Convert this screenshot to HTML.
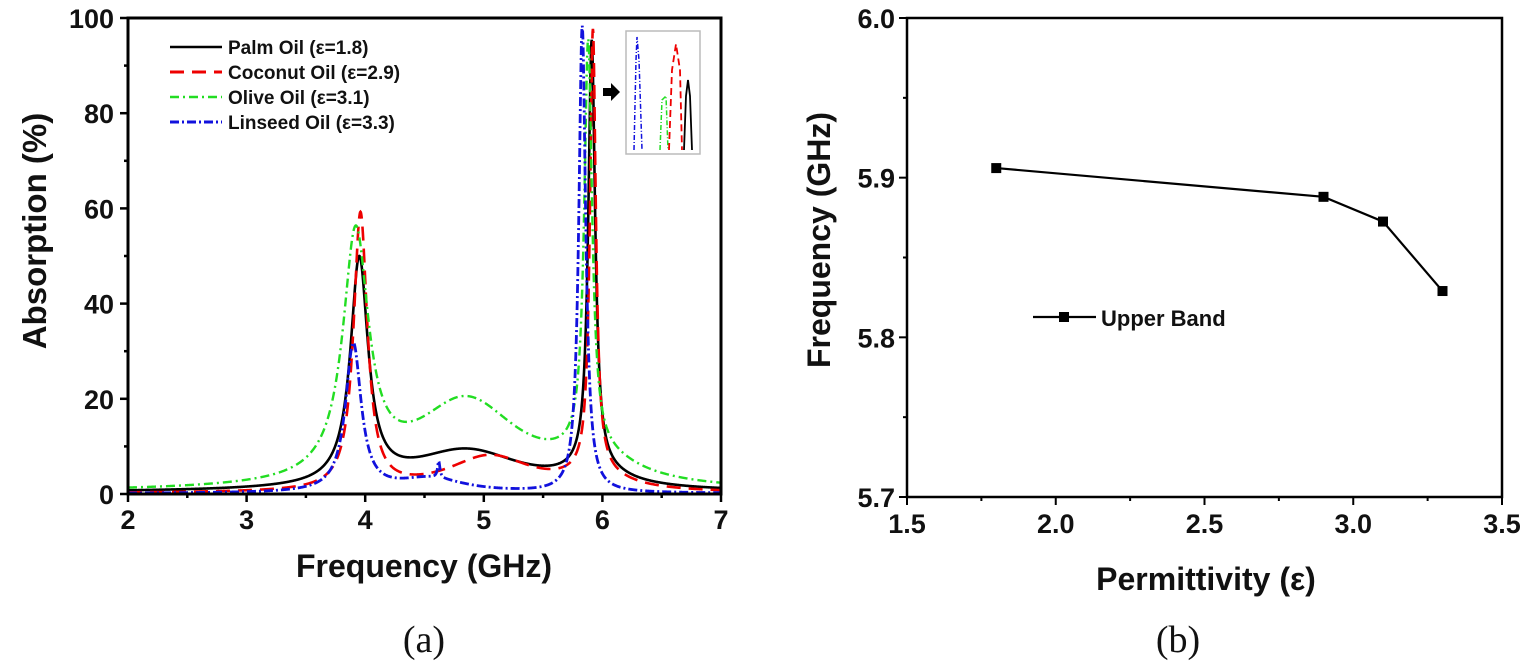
<!DOCTYPE html>
<html><head><meta charset="utf-8"><style>
html,body{margin:0;padding:0;background:#fff;}
svg{display:block;}
text{font-family:"Liberation Sans",Arial,sans-serif;font-weight:bold;fill:#111;}
</style></head><body>
<svg id="s" width="1534" height="672" viewBox="0 0 1534 672" xmlns="http://www.w3.org/2000/svg">
<g id="L"></g>
<g id="R"></g>
<text x="424" y="652" text-anchor="middle" style="font-family:'Liberation Serif',serif;font-weight:normal;font-size:38px">(a)</text>
<text x="1178" y="652" text-anchor="middle" style="font-family:'Liberation Serif',serif;font-weight:normal;font-size:38px">(b)</text>
</svg>
<script>
const NS="http://www.w3.org/2000/svg";
function el(p,t,a,txt){const e=document.createElementNS(NS,t);for(const k in a)e.setAttribute(k,a[k]);if(txt!==undefined)e.textContent=txt;p.appendChild(e);return e;}
const L=document.getElementById('L'),R=document.getElementById('R');
const x0=128,x1=721,y0=494,yT=18;
const X=x=>x0+(x-2)*(x1-x0)/5, Y=y=>y0-y*(y0-yT)/100;
const lor=(x,c,A,w)=>A/(1+((x-c)/w)**2);
const curves=[
 {f:x=>0.3+lor(x,3.95,47,0.09)+lor(x,5.91,90,0.035)+lor(x,4.85,8.5,0.6)+lor(x,5.95,3,0.3),c:'#000',d:'',w:2.6},
 {f:x=>0.1+lor(x,3.96,58,0.07)+lor(x,5.05,7.5,0.45)+lor(x,5.92,93,0.03)+lor(x,5.95,3,0.3),c:'#e00',d:'14,8',w:2.6},
 {f:x=>0.4+lor(x,3.92,51,0.13)+lor(x,4.85,18.5,0.55)+lor(x,5.88,86,0.04)+lor(x,5.95,5,0.4),c:'#2d2',d:'9,4,2,4',w:2.4},
 {f:x=>0.1+lor(x,3.9,31,0.08)+lor(x,4.62,3.5,0.012)+lor(x,4.55,3,0.35)+lor(x,5.83,98,0.035),c:'#11d',d:'9,3,2,3',w:2.8}
];
curves.forEach(cv=>{let p='';for(let i=0;i<=2000;i++){const x=2+5*i/2000;let y=Math.min(100,cv.f(x));p+=(i?'L':'M')+X(x).toFixed(2)+','+Y(y).toFixed(2);}
 el(L,'path',{d:p,fill:'none',stroke:cv.c,'stroke-width':cv.w,'stroke-dasharray':cv.d});});
el(L,'rect',{x:x0,y:yT,width:x1-x0,height:y0-yT,fill:'none',stroke:'#000','stroke-width':3});
for(let v=0;v<=100;v+=10){const y=Y(v);el(L,'line',{x1:x0,x2:x0-(v%20?4:8),y1:y,y2:y,stroke:'#000','stroke-width':2.5});
 if(v%20==0)el(L,'text',{x:x0-14,y:y+10,'text-anchor':'end','font-size':27},v);}
for(let v=2;v<=7;v+=0.5){const x=X(v);el(L,'line',{x1:x,x2:x,y1:y0,y2:y0+(v%1?4:8),stroke:'#000','stroke-width':2.5});
 if(v%1==0)el(L,'text',{x:x,y:y0+35,'text-anchor':'middle','font-size':27},v);}
el(L,'text',{x:424,y:577,'text-anchor':'middle','font-size':32},'Frequency (GHz)');
el(L,'text',{x:46,y:231,'text-anchor':'middle','font-size':33,transform:'rotate(-90 46 231)'},'Absorption (%)');
const lg=[['Palm Oil (ε=1.8)','#000','',2.5],['Coconut Oil (ε=2.9)','#e00','14,8',3],['Olive Oil (ε=3.1)','#2d2','9,4,2,4',2.5],['Linseed Oil (ε=3.3)','#11d','9,3,2,3',3]];
lg.forEach((g,i)=>{const y=47+i*25;el(L,'line',{x1:170,x2:222,y1:y,y2:y,stroke:g[1],'stroke-width':g[3],'stroke-dasharray':g[2]});
 el(L,'text',{x:228,y:y+7,'font-size':19},g[0]);});
el(L,'rect',{x:626,y:31,width:74,height:123,fill:'#fff',stroke:'#bbb','stroke-width':1.5});
el(L,'path',{d:'M603,88 h8 v-5 l9,9 l-9,9 v-5 h-8z',fill:'#000'});
el(L,'path',{d:'M634,150 L636,60 L637,37 L639,60 L642,150',fill:'none',stroke:'#11d','stroke-width':1.5,'stroke-dasharray':'5,2,1,2'});
el(L,'path',{d:'M660,150 L662,100 L666,96 L668,150',fill:'none',stroke:'#2d2','stroke-width':1.5,'stroke-dasharray':'5,2,1,2'});
el(L,'path',{d:'M669,150 L672,70 L676,44 L680,70 L682,150',fill:'none',stroke:'#e00','stroke-width':1.8,'stroke-dasharray':'7,4'});
el(L,'path',{d:'M684,150 L686,96 L688,80 L690,96 L692,150',fill:'none',stroke:'#000','stroke-width':1.8});
const a0=907,a1=1502,b0=497,b1=18;
const PX=v=>a0+(v-1.5)*(a1-a0)/2, PY=v=>b0-(v-5.7)*(b0-b1)/0.3;
el(R,'rect',{x:a0,y:b1,width:a1-a0,height:b0-b1,fill:'none',stroke:'#000','stroke-width':2.5});
for(let i=0;i<=6;i++){const v=5.7+i*0.05,y=PY(v);el(R,'line',{x1:a0,x2:a0-(i%2?4:8),y1:y,y2:y,stroke:'#000','stroke-width':2});
 if(i%2==0)el(R,'text',{x:a0-12,y:y+10,'text-anchor':'end','font-size':27},v.toFixed(1));}
for(let i=0;i<=8;i++){const v=1.5+i*0.25,x=PX(v);el(R,'line',{x1:x,x2:x,y1:b0,y2:b0+(i%2?4:8),stroke:'#000','stroke-width':2});
 if(i%2==0)el(R,'text',{x:x,y:b0+36,'text-anchor':'middle','font-size':27},v.toFixed(1));}
el(R,'text',{x:1206,y:590,'text-anchor':'middle','font-size':32},'Permittivity (ε)');
el(R,'text',{x:830,y:240,'text-anchor':'middle','font-size':32,transform:'rotate(-90 830 240)'},'Frequency (GHz)');
const pts=[[1.8,5.906],[2.9,5.888],[3.1,5.8725],[3.3,5.829]];
el(R,'polyline',{points:pts.map(p=>PX(p[0])+','+PY(p[1])).join(' '),fill:'none',stroke:'#000','stroke-width':2.2});
pts.forEach(p=>el(R,'rect',{x:PX(p[0])-5,y:PY(p[1])-5,width:10,height:10,fill:'#000'}));
el(R,'line',{x1:1033,x2:1096,y1:317,y2:317,stroke:'#000','stroke-width':2.2});
el(R,'rect',{x:1059,y:312,width:10,height:10,fill:'#000'});
el(R,'text',{x:1101,y:326,'font-size':22},'Upper Band');
</script>
</body></html>
